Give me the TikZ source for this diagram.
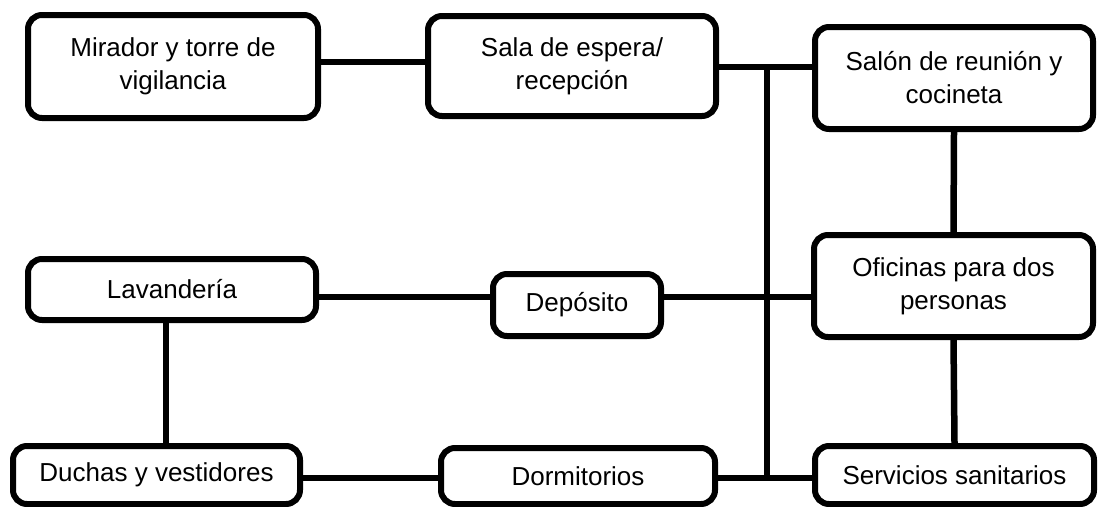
\documentclass[tikz,border=0pt]{standalone}
\usepackage{fontspec}
\setmainfont{Liberation Sans}
\begin{document}
\begin{tikzpicture}[x=1pt,y=-1pt,
  box/.style={draw=black,line width=6pt,rounded corners=14pt,fill=white,align=center,
    inner sep=0pt,font=\fontsize{26}{33}\selectfont},
  link/.style={line width=6.5pt,line cap=butt}]
\useasboundingbox (0,0) rectangle (1099,506);
\begin{scope}
\clip (0,0) rectangle (1099,506);
\coordinate (rowA) at (0,62);
\coordinate (rowB) at (0,67);
\coordinate (rowC) at (0,297);
\coordinate (rowD) at (0,478);
\coordinate (colL) at (166,0);
\coordinate (busTop) at (767,67);
\coordinate (busBot) at (767,478);

\node[box,minimum width=290pt,minimum height=103pt] (mir) at (173,66.5) {Mirador y torre de\\vigilancia};
\node[box,minimum width=288pt,minimum height=100pt] (sala) at (572,66) {Sala de espera/\\recepción};
\node[box,minimum width=278pt,minimum height=102pt] (salon) at (954,78) {Salón de reunión y\\cocineta};
\node[box,minimum width=279pt,minimum height=102pt] (ofi) at (953.5,286) {Oficinas para dos\\personas};
\node[box,minimum width=288pt,minimum height=61pt] (lav) at (172,289.5) {Lavandería};
\node[box,minimum width=168pt,minimum height=62pt] (dep) at (577,305) {Depósito};
\node[box,minimum width=287pt,minimum height=58pt] (duch) at (156.5,475) {Duchas y vestidores};
\node[box,minimum width=274pt,minimum height=56pt] (dorm) at (578,476) {Dormitorios};
\node[box,minimum width=279pt,minimum height=58pt] (serv) at (954.5,475) {Servicios sanitarios};

\draw[link] (mir.east |- rowA) -- (sala.west |- rowA);
\draw[link] (sala.east |- rowB) -- (salon.west |- rowB);
\draw[link] (busTop) -- (busBot);
\draw[link] (lav.east |- rowC) -- (dep.west |- rowC);
\draw[link] (dep.east |- rowC) -- (ofi.west |- rowC);
\draw[link] (duch.east |- rowD) -- (dorm.west |- rowD);
\draw[link] (dorm.east |- rowD) -- (serv.west |- rowD);
\draw[link] (salon.south) -- (ofi.north);
\draw[link] (ofi.south) -- (serv.north);
\draw[link] (lav.south -| colL) -- (duch.north -| colL);
\end{scope}
\end{tikzpicture}
\end{document}
